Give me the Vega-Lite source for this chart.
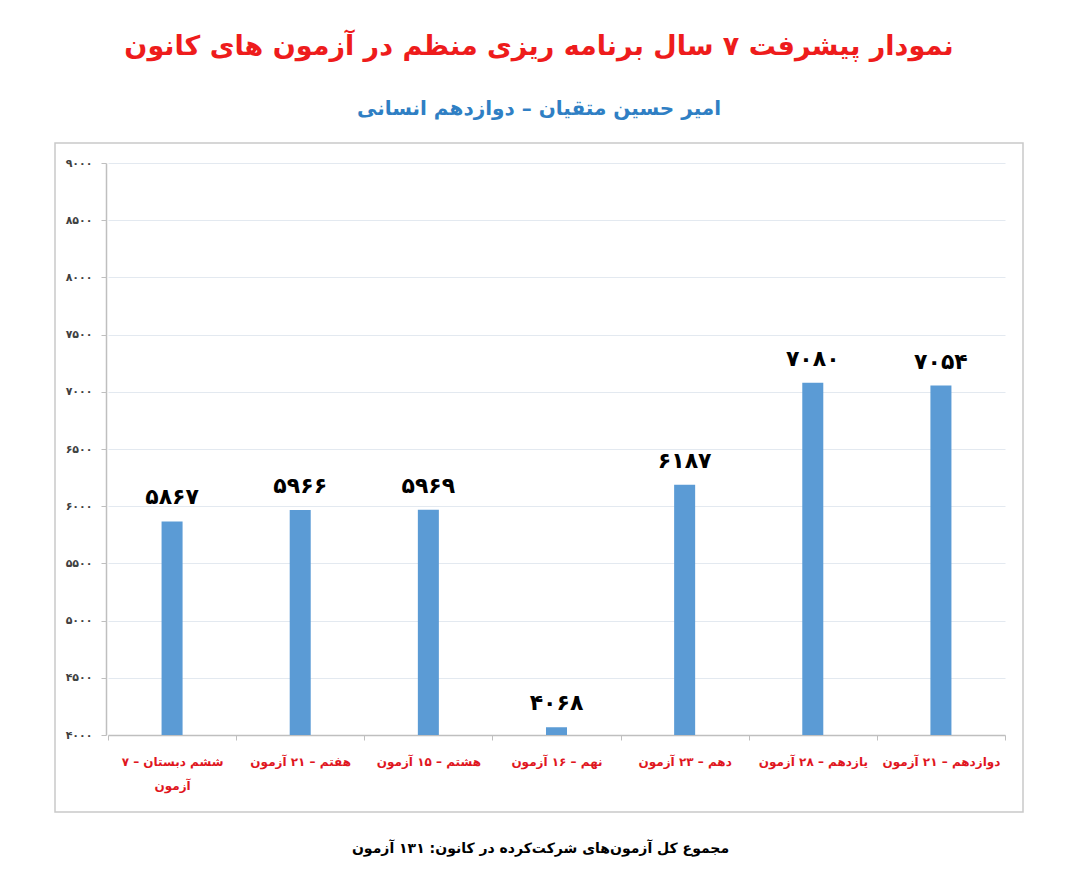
{
  "$schema": "https://vega.github.io/schema/vega-lite/v6.json",
  "autosize": "none",
  "width": 968,
  "height": 669,
  "padding": {"left": 55, "top": 143, "right": 57, "bottom": 79},
  "background": "white",
  "config": {
    "font": "DejaVu Sans",
    "view": {"stroke": "#c9c9c9", "strokeWidth": 1.5}
  },
  "title": {
    "text": "نمودار پیشرفت ۷ سال برنامه ریزی منظم در آزمون های کانون",
    "subtitle": "امیر حسین متقیان – دوازدهم انسانی",
    "anchor": "middle",
    "frame": "group",
    "fontSize": 27,
    "fontWeight": "bold",
    "color": "#ee1c1c",
    "subtitleFontSize": 20,
    "subtitleFontWeight": "bold",
    "subtitleColor": "#2f7fc4",
    "subtitlePadding": 38,
    "offset": 23
  },
  "data": {
    "values": [
      {"grade": "ششم دبستان – ۷ آزمون", "score": 5867, "label": "۵۸۶۷"},
      {"grade": "هفتم – ۲۱ آزمون", "score": 5966, "label": "۵۹۶۶"},
      {"grade": "هشتم – ۱۵ آزمون", "score": 5969, "label": "۵۹۶۹"},
      {"grade": "نهم – ۱۶ آزمون", "score": 4068, "label": "۴۰۶۸"},
      {"grade": "دهم – ۲۳ آزمون", "score": 6187, "label": "۶۱۸۷"},
      {"grade": "یازدهم – ۲۸ آزمون", "score": 7080, "label": "۷۰۸۰"},
      {"grade": "دوازدهم – ۲۱ آزمون", "score": 7054, "label": "۷۰۵۴"}
    ]
  },
  "encoding": {
    "x": {
      "field": "grade",
      "type": "nominal",
      "sort": null,
      "scale": {"range": [53, 950], "paddingInner": 0, "paddingOuter": 0},
      "axis": {
        "orient": "bottom",
        "offset": -77,
        "title": "مجموع کل آزمون‌های شرکت‌کرده در کانون:  ۱۳۱ آزمون",
        "titleX": 485,
        "titleY": 113,
        "titleFontSize": 14,
        "titleFontWeight": "bold",
        "titleColor": "#000000",
        "titleAlign": "center",
        "titleBaseline": "middle",
        "labelAngle": 0,
        "labelColor": "#e0161e",
        "labelFontSize": 12,
        "labelFontWeight": "bold",
        "labelPadding": 16,
        "labelLimit": 250,
        "labelLineHeight": 24,
        "labelExpr": "datum.value == 'ششم دبستان – ۷ آزمون' ? ['ششم دبستان – ۷', 'آزمون'] : datum.label",
        "domainColor": "#bfbfbf",
        "domainWidth": 1.5,
        "tickColor": "#bfbfbf",
        "tickSize": 5,
        "tickBand": "extent",
        "grid": false
      }
    }
  },
  "layer": [
    {
      "mark": {"type": "bar", "color": "#5b9bd5", "width": {"band": 0.164}},
      "encoding": {
        "y": {
          "field": "score",
          "type": "quantitative",
          "scale": {"domain": [4000, 9000], "range": [592, 20], "nice": false, "zero": false},
          "axis": {
            "orient": "left",
            "offset": -51,
            "values": [4000, 4500, 5000, 5500, 6000, 6500, 7000, 7500, 8000, 8500, 9000],
            "title": null,
            "format": "d",
            "labelExpr": "replace(replace(replace(replace(replace(replace(replace(replace(replace(replace(datum.label, regexp('0','g'), '۰'), regexp('1','g'), '۱'), regexp('2','g'), '۲'), regexp('3','g'), '۳'), regexp('4','g'), '۴'), regexp('5','g'), '۵'), regexp('6','g'), '۶'), regexp('7','g'), '۷'), regexp('8','g'), '۸'), regexp('9','g'), '۹')",
            "labelFontSize": 11,
            "labelFontWeight": "bold",
            "labelColor": "#404040",
            "labelPadding": 9,
            "tickSize": 5,
            "tickColor": "#bfbfbf",
            "domainColor": "#bfbfbf",
            "domainWidth": 1.5,
            "grid": true,
            "gridColor": "#e3e9f0",
            "gridWidth": 1
          }
        },
        "y2": {"datum": 4000}
      }
    },
    {
      "mark": {"type": "text", "baseline": "bottom", "dy": -12, "fontSize": 22, "fontWeight": "bold", "color": "#000000"},
      "encoding": {
        "y": {"field": "score", "type": "quantitative"},
        "text": {"field": "label"}
      }
    }
  ]
}
